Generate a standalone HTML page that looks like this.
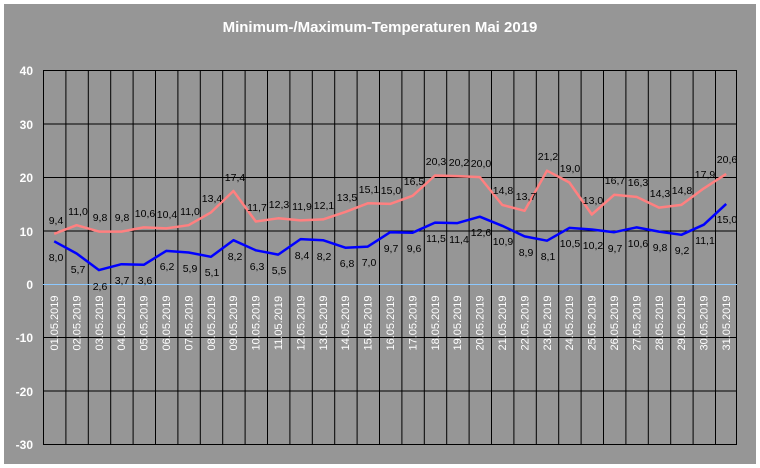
<!DOCTYPE html>
<html><head><meta charset="utf-8"><style>
html,body{margin:0;padding:0;background:#fff;}
svg{display:block;font-family:"Liberation Sans",Arial,sans-serif;}
</style></head><body>
<svg width="760" height="468" viewBox="0 0 760 468" xmlns="http://www.w3.org/2000/svg">
<rect x="4" y="4" width="752" height="460" fill="#969696"/>
<text x="380" y="32" text-anchor="middle" font-size="15" font-weight="bold" fill="#fff">Minimum-/Maximum-Temperaturen Mai 2019</text>
<g stroke="#000" stroke-width="1" fill="none">
<path d="M43 70.5H737M43 124H737M43 177.5H737M43 231H737M43 337.5H737M43 391H737M43 444.5H737"/>
<path d="M43.5 70V444M65.9 70V444M88.3 70V444M110.7 70V444M133.1 70V444M155.5 70V444M177.9 70V444M200.3 70V444M222.7 70V444M245.1 70V444M267.5 70V444M289.9 70V444M312.3 70V444M334.7 70V444M357.1 70V444M379.5 70V444M401.9 70V444M424.3 70V444M446.7 70V444M469.1 70V444M491.5 70V444M513.9 70V444M536.3 70V444M558.7 70V444M581.1 70V444M603.5 70V444M625.9 70V444M648.3 70V444M670.7 70V444M693.1 70V444M715.5 70V444M736.5 70V444"/>
</g>
<line x1="43" y1="284.5" x2="737" y2="284.5" stroke="#8cc8ff" stroke-width="1"/>
<g font-size="12" font-weight="bold" fill="#fff" text-anchor="end">
<text x="33" y="75">40</text><text x="33" y="129">30</text><text x="33" y="182">20</text><text x="33" y="236">10</text><text x="33" y="289">0</text><text x="33" y="342">-10</text><text x="33" y="396">-20</text><text x="33" y="449">-30</text>
</g>
<g font-size="11" fill="#fff" text-anchor="middle">
<text transform="translate(58,323) rotate(-90)">01.05.2019</text>
<text transform="translate(80.4,323) rotate(-90)">02.05.2019</text>
<text transform="translate(102.8,323) rotate(-90)">03.05.2019</text>
<text transform="translate(125.2,323) rotate(-90)">04.05.2019</text>
<text transform="translate(147.6,323) rotate(-90)">05.05.2019</text>
<text transform="translate(170,323) rotate(-90)">06.05.2019</text>
<text transform="translate(192.4,323) rotate(-90)">07.05.2019</text>
<text transform="translate(214.8,323) rotate(-90)">08.05.2019</text>
<text transform="translate(237.2,323) rotate(-90)">09.05.2019</text>
<text transform="translate(259.6,323) rotate(-90)">10.05.2019</text>
<text transform="translate(282,323) rotate(-90)">11.05.2019</text>
<text transform="translate(304.4,323) rotate(-90)">12.05.2019</text>
<text transform="translate(326.8,323) rotate(-90)">13.05.2019</text>
<text transform="translate(349.2,323) rotate(-90)">14.05.2019</text>
<text transform="translate(371.6,323) rotate(-90)">15.05.2019</text>
<text transform="translate(394,323) rotate(-90)">16.05.2019</text>
<text transform="translate(416.4,323) rotate(-90)">17.05.2019</text>
<text transform="translate(438.8,323) rotate(-90)">18.05.2019</text>
<text transform="translate(461.2,323) rotate(-90)">19.05.2019</text>
<text transform="translate(483.6,323) rotate(-90)">20.05.2019</text>
<text transform="translate(506,323) rotate(-90)">21.05.2019</text>
<text transform="translate(528.4,323) rotate(-90)">22.05.2019</text>
<text transform="translate(550.8,323) rotate(-90)">23.05.2019</text>
<text transform="translate(573.2,323) rotate(-90)">24.05.2019</text>
<text transform="translate(595.6,323) rotate(-90)">25.05.2019</text>
<text transform="translate(618,323) rotate(-90)">26.05.2019</text>
<text transform="translate(640.4,323) rotate(-90)">27.05.2019</text>
<text transform="translate(662.8,323) rotate(-90)">28.05.2019</text>
<text transform="translate(685.2,323) rotate(-90)">29.05.2019</text>
<text transform="translate(707.6,323) rotate(-90)">30.05.2019</text>
<text transform="translate(730,323) rotate(-90)">31.05.2019</text>
</g>
<polyline fill="none" stroke="#ff8080" stroke-width="2.5" stroke-linejoin="round" points="54.2,233.8 76.6,225.2 99,231.6 121.4,231.6 143.8,227.4 166.2,228.4 188.6,225.2 211,212.4 233.4,191 255.8,221.5 278.2,218.3 300.6,220.4 323,219.4 345.4,211.9 367.8,203.3 390.2,203.9 412.6,195.8 435,175.5 457.4,176.1 479.8,177.1 502.2,204.9 524.6,210.8 547,170.7 569.4,182.5 591.8,214.5 614.2,194.8 636.6,196.9 659,207.6 681.4,204.9 703.8,188.4 726.2,173.9"/>
<polyline fill="none" stroke="#0000ff" stroke-width="2.5" stroke-linejoin="round" points="54.2,241.3 76.6,253.5 99,270.1 121.4,264.2 143.8,264.8 166.2,250.9 188.6,252.5 211,256.8 233.4,240.2 255.8,250.3 278.2,254.6 300.6,239.1 323,240.2 345.4,247.7 367.8,246.6 390.2,232.2 412.6,232.7 435,222.6 457.4,223.1 479.8,216.7 502.2,225.8 524.6,236.4 547,240.7 569.4,227.9 591.8,229.5 614.2,232.2 636.6,227.4 659,231.6 681.4,234.8 703.8,224.7 726.2,203.9"/>
<g font-size="10.5" fill="#000" text-anchor="middle">
<text x="56" y="224">9,4</text><text x="78" y="215">11,0</text><text x="100" y="221">9,8</text><text x="122" y="221">9,8</text><text x="145" y="217">10,6</text><text x="167" y="218">10,4</text><text x="190" y="215">11,0</text><text x="212" y="202">13,4</text><text x="235" y="181">17,4</text><text x="257" y="211">11,7</text><text x="279" y="208">12,3</text><text x="302" y="210">11,9</text><text x="324" y="209">12,1</text><text x="347" y="201">13,5</text><text x="369" y="193">15,1</text><text x="391" y="194">15,0</text><text x="414" y="185">16,5</text><text x="436" y="165">20,3</text><text x="459" y="166">20,2</text><text x="481" y="167">20,0</text><text x="503" y="194">14,8</text><text x="526" y="200">13,7</text><text x="548" y="160">21,2</text><text x="570" y="172">19,0</text><text x="593" y="204">13,0</text><text x="615" y="184">16,7</text><text x="638" y="186">16,3</text><text x="660" y="197">14,3</text><text x="682" y="194">14,8</text><text x="705" y="178">17,9</text><text x="727" y="163">20,6</text>
<text x="56" y="261">8,0</text><text x="78" y="273">5,7</text><text x="100" y="290">2,6</text><text x="122" y="284">3,7</text><text x="145" y="284">3,6</text><text x="167" y="270">6,2</text><text x="190" y="272">5,9</text><text x="212" y="276">5,1</text><text x="235" y="260">8,2</text><text x="257" y="270">6,3</text><text x="279" y="274">5,5</text><text x="302" y="259">8,4</text><text x="324" y="260">8,2</text><text x="347" y="267">6,8</text><text x="369" y="266">7,0</text><text x="391" y="252">9,7</text><text x="414" y="252">9,6</text><text x="436" y="242">11,5</text><text x="459" y="243">11,4</text><text x="481" y="236">12,6</text><text x="503" y="245">10,9</text><text x="526" y="256">8,9</text><text x="548" y="260">8,1</text><text x="570" y="247">10,5</text><text x="593" y="249">10,2</text><text x="615" y="252">9,7</text><text x="638" y="247">10,6</text><text x="660" y="251">9,8</text><text x="682" y="254">9,2</text><text x="705" y="244">11,1</text><text x="727" y="223">15,0</text>
</g>
</svg>
</body></html>
